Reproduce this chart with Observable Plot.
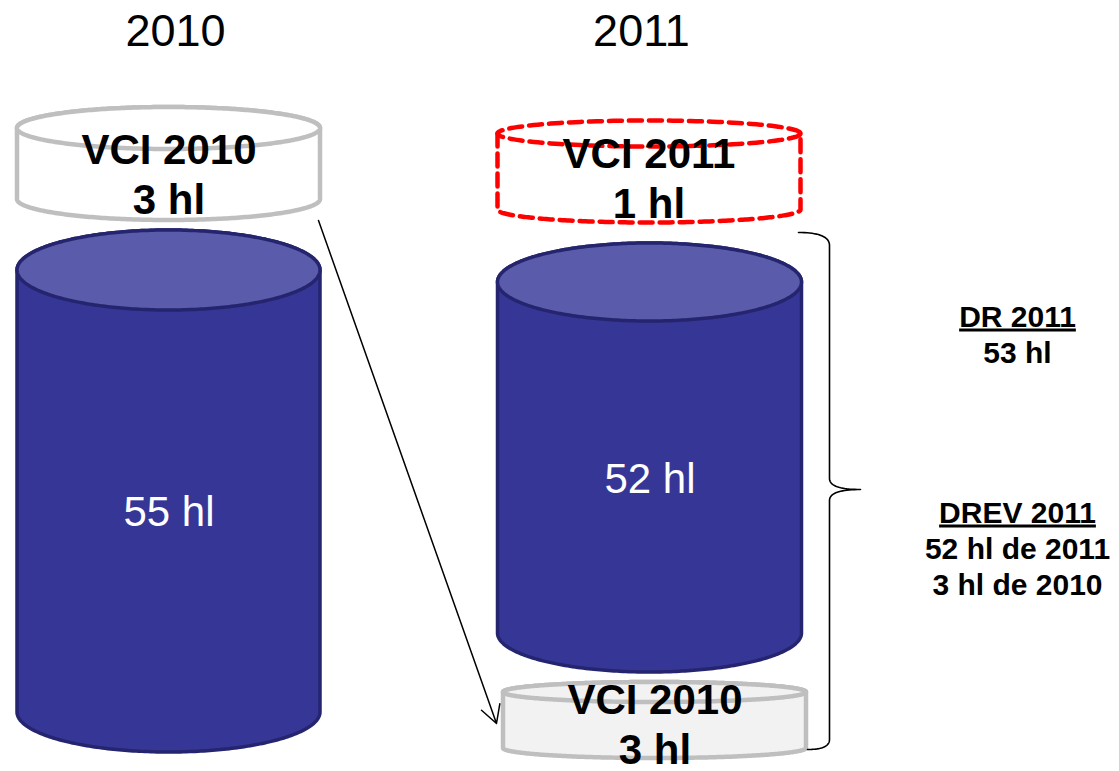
<!DOCTYPE html>
<html><head><meta charset="utf-8">
<script src="https://cdn.jsdelivr.net/npm/d3@7"></script>
<script src="https://cdn.jsdelivr.net/npm/@observablehq/plot@0.6"></script>
<style>html,body{margin:0;padding:0;background:#fff;} #chart svg{display:block;}</style>
</head><body><div id="chart"></div>
<script>
// ---- data ----
const years = ["2010", "2011"];
const harvestHl = [55, 52];
const stockNames = ["VCI 2010", "VCI 2011", "VCI 2010"];
const stockHl = [3, 1, 3];
const declTitles = ["DR 2011", "DREV 2011"];
const declLines = [["53 hl"], ["52 hl de 2011", "3 hl de 2010"]];

// ---- layout (diagram geometry, pixel units) ----
const W = 1119, H = 771;
const layout = {
  yearX: [175, 641], yearBase: 45, yearSize: 45,
  harvest: [
    {cx: 168.5, rx: 151.5, top: 270, bot: 712, ry: 40, base: 525},
    {cx: 649.5, rx: 152, top: 282, bot: 633, ry: 39, base: 492}
  ],
  stock: [
    {cx: 168.5, rx: 151.5, top: 128, bot: 199, ry: 21, base: 163, kind: "white"},
    {cx: 648.5, rx: 151.5, top: 133, bot: 209, ry: 13, base: 167, kind: "dashed"},
    {cx: 654.5, rx: 151.5, top: 692, bot: 748, ry: 10, base: 713, kind: "grey"}
  ],
  labelSize: 42, lineGap: 50,
  declX: 1017, declBase: [326, 522], declSize: 30, declGap: 36,
  arrow: {x1: 318, y1: 220, x2: 496, y2: 723},
  brace: {x0: 798, xv: 829, xt: 860, yTop: 232, yMid: 489, yBot: 749, xEnd: 807}
};
const blue = "#363697", blueTop = "#5b5bab", blueEdge = "#25256f", grey = "#bfbfbf";

// ---- geometry helpers ----
const N = 160;
function bodyRows(c) {
  return d3.range(N + 1).map(i => {
    const th = Math.PI * i / N, s = Math.sin(th);
    return {x: c.cx - c.rx * Math.cos(th), y1: c.top - c.ry * s, y2: c.bot + c.ry * s};
  });
}
function topRows(c) {
  return d3.range(N + 1).map(i => {
    const th = Math.PI * i / N, s = Math.sin(th);
    return {x: c.cx - c.rx * Math.cos(th), y1: c.top - c.ry * s, y2: c.top + c.ry * s};
  });
}
function ring(c) {
  return d3.range(N + 1).map(i => {
    const th = 2 * Math.PI * i / N;
    return {x: c.cx + c.rx * Math.cos(th), y: c.top + c.ry * Math.sin(th)};
  });
}
function openBody(c) {
  const pts = [{x: c.cx - c.rx, y: c.top}];
  for (let i = 0; i <= N; i++) {
    const th = Math.PI * i / N;
    pts.push({x: c.cx - c.rx * Math.cos(th), y: c.bot + c.ry * Math.sin(th)});
  }
  pts.push({x: c.cx + c.rx, y: c.top});
  return pts;
}
function quad(p0, p1, p2, n = 20) {
  return d3.range(n + 1).map(i => {
    const t = i / n, a = (1 - t) * (1 - t), b = 2 * (1 - t) * t, c = t * t;
    return {x: a * p0[0] + b * p1[0] + c * p2[0], y: a * p0[1] + b * p1[1] + c * p2[1]};
  });
}
const B = layout.brace;
const braceRows = [
  ...quad([B.x0, B.yTop], [B.xv, B.yTop], [B.xv, B.yTop + 13]),
  ...quad([B.xv, B.yMid - 11], [B.xv, B.yMid], [B.xt, B.yMid]),
  ...quad([B.xt, B.yMid], [B.xv, B.yMid], [B.xv, B.yMid + 11]),
  ...quad([B.xv, B.yBot - 10], [B.xv, B.yBot], [B.xEnd, B.yBot])
];

// ---- marks ----
const marks = [];
layout.stock.forEach(c => {
  if (c.kind === "dashed") {
    marks.push(Plot.line(ring(c), {x: "x", y: "y", stroke: "#ff0000", strokeWidth: 4.5, strokeDasharray: "13,7"}));
    marks.push(Plot.line(openBody(c), {x: "x", y: "y", stroke: "#ff0000", strokeWidth: 4.5, strokeDasharray: "13,7"}));
  } else {
    const f = c.kind === "grey" ? "#f2f2f2" : "#ffffff";
    marks.push(Plot.area(bodyRows(c), {x1: "x", y1: "y1", y2: "y2", fill: f, stroke: grey, strokeWidth: 4.5}));
    marks.push(Plot.area(topRows(c), {x1: "x", y1: "y1", y2: "y2", fill: f, stroke: grey, strokeWidth: 4.5}));
  }
});
layout.harvest.forEach(c => {
  marks.push(Plot.area(bodyRows(c), {x1: "x", y1: "y1", y2: "y2", fill: blue, stroke: blueEdge, strokeWidth: 3.5}));
  marks.push(Plot.area(topRows(c), {x1: "x", y1: "y1", y2: "y2", fill: blueTop, stroke: blueEdge, strokeWidth: 3.5}));
});
marks.push(Plot.arrow([layout.arrow], {x1: "x1", y1: "y1", x2: "x2", y2: "y2", stroke: "black", strokeWidth: 1.5, headLength: 20, headAngle: 58}));
marks.push(Plot.line(braceRows, {x: "x", y: "y", stroke: "black", strokeWidth: 1.6}));

const mid = (base, fs) => base - 0.32 * fs;
const yearRows = years.map((t, i) => ({x: layout.yearX[i], y: mid(layout.yearBase, layout.yearSize), t}));
const harvestRows = harvestHl.map((v, i) => ({x: layout.harvest[i].cx, y: mid(layout.harvest[i].base, layout.labelSize), t: `${v} hl`}));
const stockRows = stockNames.flatMap((n, i) => {
  const c = layout.stock[i];
  return [
    {x: c.cx, y: mid(c.base, layout.labelSize), t: n},
    {x: c.cx, y: mid(c.base + layout.lineGap, layout.labelSize), t: `${stockHl[i]} hl`}
  ];
});
const declRows = declTitles.flatMap((title, i) => {
  const b = layout.declBase[i];
  return [{x: layout.declX, y: mid(b, layout.declSize), t: title},
    ...declLines[i].map((l, j) => ({x: layout.declX, y: mid(b + (j + 1) * layout.declGap, layout.declSize), t: l}))];
});
marks.push(Plot.text(yearRows, {x: "x", y: "y", text: "t", fontSize: layout.yearSize, fill: "black"}));
marks.push(Plot.text(harvestRows, {x: "x", y: "y", text: "t", fontSize: layout.labelSize, fill: "white"}));
marks.push(Plot.text(stockRows, {x: "x", y: "y", text: "t", fontSize: layout.labelSize, fontWeight: "bold", fill: "black"}));
marks.push(Plot.text(declRows, {x: "x", y: "y", text: "t", fontSize: layout.declSize, fontWeight: "bold", fill: "black"}));

const chart = Plot.plot({
  width: W, height: H,
  margin: 0,
  x: {domain: [0, W], range: [0, W], axis: null},
  y: {domain: [0, H], range: [0, H], axis: null},
  style: {fontFamily: "'Liberation Sans', Arial, sans-serif", background: "white", overflow: "visible"},
  marks
});
chart.querySelectorAll("text").forEach(el => {
  if (declTitles.includes(el.textContent)) el.style.textDecoration = "underline";
});
document.getElementById("chart").appendChild(chart);
</script>
</body></html>
